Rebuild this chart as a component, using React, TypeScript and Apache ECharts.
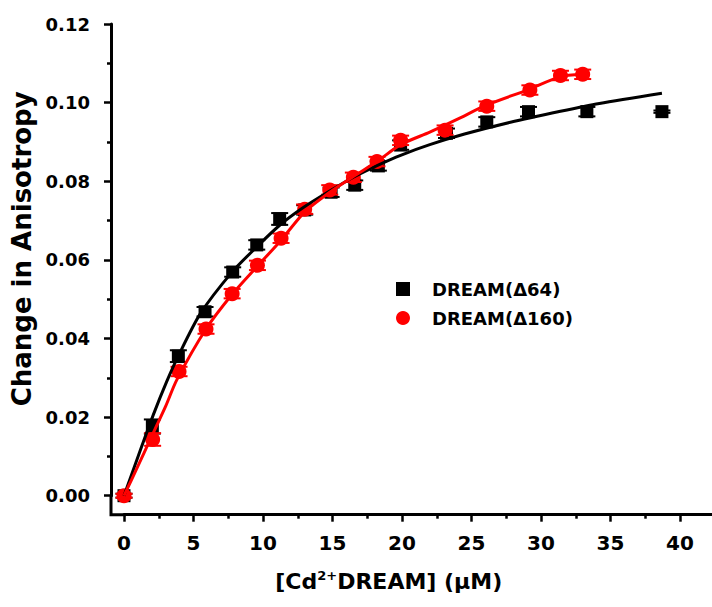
import React, { useEffect, useRef } from "react";
import * as echarts from "echarts";

// ---- data ----
const seriesNames = ["DREAM(\u039464)", "DREAM(\u0394160)"];

const x64 = [0, 2.04, 3.91, 5.83, 7.82, 9.55, 11.2, 13.0, 14.9, 16.6, 18.3, 19.9, 23.2, 26.1, 29.1, 33.3, 38.7];
const y64 = [0, 0.0176, 0.0355, 0.0468, 0.0569, 0.0638, 0.0704, 0.0727, 0.0772, 0.079, 0.0839, 0.0892, 0.0922, 0.0951, 0.0977, 0.0977, 0.0977];
const e64 = [0.0005, 0.0018, 0.0015, 0.0012, 0.0012, 0.0012, 0.0015, 0.0012, 0.0012, 0.0012, 0.0012, 0.0012, 0.0012, 0.0012, 0.0012, 0.0012, 0.0003];

const x160 = [0, 2.06, 3.96, 5.9, 7.78, 9.6, 11.3, 13.0, 14.8, 16.5, 18.2, 19.9, 23.1, 26.1, 29.2, 31.4, 33.0];
const y160 = [0, 0.0143, 0.0316, 0.0424, 0.0514, 0.0586, 0.0655, 0.0729, 0.0778, 0.081, 0.085, 0.0904, 0.093, 0.0991, 0.1032, 0.1069, 0.1072];
const e160 = [0.0005, 0.0016, 0.0012, 0.0012, 0.0012, 0.0012, 0.0012, 0.0012, 0.0012, 0.0012, 0.0012, 0.0012, 0.0012, 0.0012, 0.0012, 0.0012, 0.0012];

// fitted curves
const fitX64 = [0, 1.27, 2.1, 3.07, 3.9, 5.47, 7.8, 9.55, 11.2, 12.9, 14.8, 16.6, 18.4, 19.9, 22.0, 24.5, 27.8, 31.4, 34.2, 38.7];
const fitY64 = [0, 0.0125, 0.0205, 0.029, 0.0355, 0.0462, 0.057, 0.0633, 0.0688, 0.0733, 0.0775, 0.0812, 0.0843, 0.0866, 0.0893, 0.092, 0.095, 0.0978, 0.0998, 0.1024];

const fitX160 = [0, 1.0, 1.87, 3.0, 3.79, 5.9, 7.8, 9.6, 11.3, 13.0, 14.8, 16.5, 18.2, 19.9, 22.0, 24.0, 26.1, 29.0, 31.4, 33.0];
const fitY160 = [0, 0.0075, 0.0142, 0.0228, 0.0294, 0.0424, 0.0513, 0.0584, 0.065, 0.0722, 0.0772, 0.0812, 0.085, 0.0893, 0.0925, 0.0958, 0.0994, 0.1032, 0.1066, 0.1072];

const xTicks = { min: 0, max: 45, interval: 5, lastLabel: 40 };
const yTicks = { min: 0, max: 0.12, interval: 0.02 };

const zip = (a: number[], b: number[]) => a.map((v, i) => [v, b[i]]);

const CHART_W = 770;
const CHART_H = 607;

export default function App() {
  const ref = useRef<HTMLDivElement>(null);

  useEffect(() => {
    const chart = echarts.init(ref.current!, null, { renderer: "svg" });
    const FONT = "DejaVu Sans";
    const gridLeft = 124;
    const gridTop = 24;
    const gridBottom = 111.3;
    const pxPerX = 13.9;
    const gridRight = CHART_W - (gridLeft + (xTicks.max - xTicks.min) * pxPerX);
    const yAxisX = 111;
    const xAxisY = CHART_H - gridBottom + 19;

    const errSeries = (xs: number[], ys: number[], es: number[], color: string, z: number) => ({
      type: "custom",
      silent: true,
      z,
      clip: false,
      data: xs.map((x, i) => [x, ys[i], es[i]]),
      encode: { x: 0, y: 1 },
      renderItem: (params: any, api: any) => {
        const x = api.value(0);
        const y = api.value(1);
        const e = api.value(2);
        const t = api.coord([x, y + e]);
        const b = api.coord([x, y - e]);
        const hw = 8.5;
        const st = { stroke: color, lineWidth: 2 };
        return {
          type: "group",
          children: [
            { type: "line", shape: { x1: t[0], y1: t[1], x2: b[0], y2: b[1] }, style: st },
            { type: "line", shape: { x1: t[0] - hw, y1: t[1], x2: t[0] + hw, y2: t[1] }, style: st },
            { type: "line", shape: { x1: b[0] - hw, y1: b[1], x2: b[0] + hw, y2: b[1] }, style: st },
          ],
        };
      },
    });

    const option: any = {
      animation: false,
      backgroundColor: "#fff",
      grid: { left: gridLeft, top: gridTop, bottom: gridBottom, right: gridRight, containLabel: false },
      legend: {
        orient: "vertical",
        left: 391,
        top: 275,
        itemWidth: 14,
        itemHeight: 14,
        itemGap: 11,
        selectedMode: false,
        data: [
          { name: seriesNames[0], icon: "rect" },
          { name: seriesNames[1], icon: "circle" },
        ],
        textStyle: {
          fontFamily: FONT,
          fontWeight: "bold",
          fontSize: 18,
          color: "#000",
          padding: [0, 0, 0, 17],
        },
      },
      xAxis: {
        type: "value",
        min: xTicks.min,
        max: xTicks.max,
        interval: xTicks.interval,
        offset: 19,
        splitLine: { show: false },
        axisLine: { show: true, onZero: false, lineStyle: { color: "#000", width: 3 } },
        axisTick: { show: true, inside: false, length: 7, lineStyle: { color: "#000", width: 2.5 } },
        minorTick: { show: true, splitNumber: 2, length: 4, lineStyle: { color: "#000", width: 2.5 } },
        axisLabel: {
          margin: 18,
          fontFamily: FONT,
          fontWeight: "bold",
          fontSize: 20,
          color: "#000",
          formatter: (v: number) => (v <= xTicks.lastLabel ? String(v) : ""),
        },
        name: "[Cd{sup|2+}DREAM] (\u03bcM)",
        nameLocation: "middle",
        nameGap: 54,
        nameTextStyle: {
          fontFamily: FONT,
          fontWeight: "bold",
          fontSize: 22,
          color: "#000",
          padding: [0, 96, 0, 0],
          rich: {
            sup: { fontFamily: FONT, fontWeight: "bold", fontSize: 13, color: "#000", padding: [0, 0, 12, 0] },
          },
        },
      },
      yAxis: {
        type: "value",
        min: yTicks.min,
        max: yTicks.max,
        interval: yTicks.interval,
        offset: gridLeft - yAxisX,
        splitLine: { show: false },
        axisLine: { show: true, onZero: false, lineStyle: { color: "#000", width: 3 } },
        axisTick: { show: true, inside: false, length: 7, lineStyle: { color: "#000", width: 2.5 } },
        minorTick: { show: true, splitNumber: 2, length: 4, lineStyle: { color: "#000", width: 2.5 } },
        axisLabel: {
          margin: 21,
          fontFamily: FONT,
          fontWeight: "bold",
          fontSize: 18,
          color: "#000",
          formatter: (v: number) => v.toFixed(2),
        },
        name: "Change in Anisotropy",
        nameLocation: "middle",
        nameRotate: 90,
        nameGap: 74,
        nameTextStyle: {
          fontFamily: FONT,
          fontWeight: "bold",
          fontSize: 26,
          color: "#000",
          padding: [0, 0, 0, 22],
        },
      },
      graphic: [
        {
          type: "polyline",
          silent: true,
          shape: { points: [[yAxisX, CHART_H - gridBottom - 1], [yAxisX, xAxisY], [gridLeft + 2, xAxisY]] },
          style: { stroke: "#000", lineWidth: 3, fill: null },
        },
      ],
      series: [
        errSeries(x64, y64, e64, "#000", 2),
        {
          name: seriesNames[0],
          type: "scatter",
          symbol: "rect",
          symbolSize: 13,
          z: 3,
          clip: false,
          itemStyle: { color: "#000", opacity: 1 },
          data: zip(x64, y64),
        },
        errSeries(x160, y160, e160, "#ff0000", 4),
        {
          name: seriesNames[1],
          type: "scatter",
          symbol: "circle",
          symbolSize: 15,
          z: 5,
          clip: false,
          itemStyle: { color: "#ff0000", opacity: 1 },
          data: zip(x160, y160),
        },
        {
          name: "fit64",
          type: "line",
          z: 6,
          clip: false,
          showSymbol: false,
          symbol: "none",
          smooth: 0.25,
          lineStyle: { color: "#000", width: 3 },
          data: zip(fitX64, fitY64),
        },
        {
          name: "fit160",
          type: "line",
          z: 7,
          clip: false,
          showSymbol: false,
          symbol: "none",
          smooth: 0.25,
          lineStyle: { color: "#ff0000", width: 3 },
          data: zip(fitX160, fitY160),
        },
      ],
    };

    chart.setOption(option);
    return () => chart.dispose();
  }, []);

  return (
    <div
      style={{ position: "fixed", left: 0, top: 0, width: 712, height: CHART_H, overflow: "hidden", background: "#fff" }}
    >
      <div ref={ref} style={{ width: CHART_W, height: CHART_H }} />
    </div>
  );
}
